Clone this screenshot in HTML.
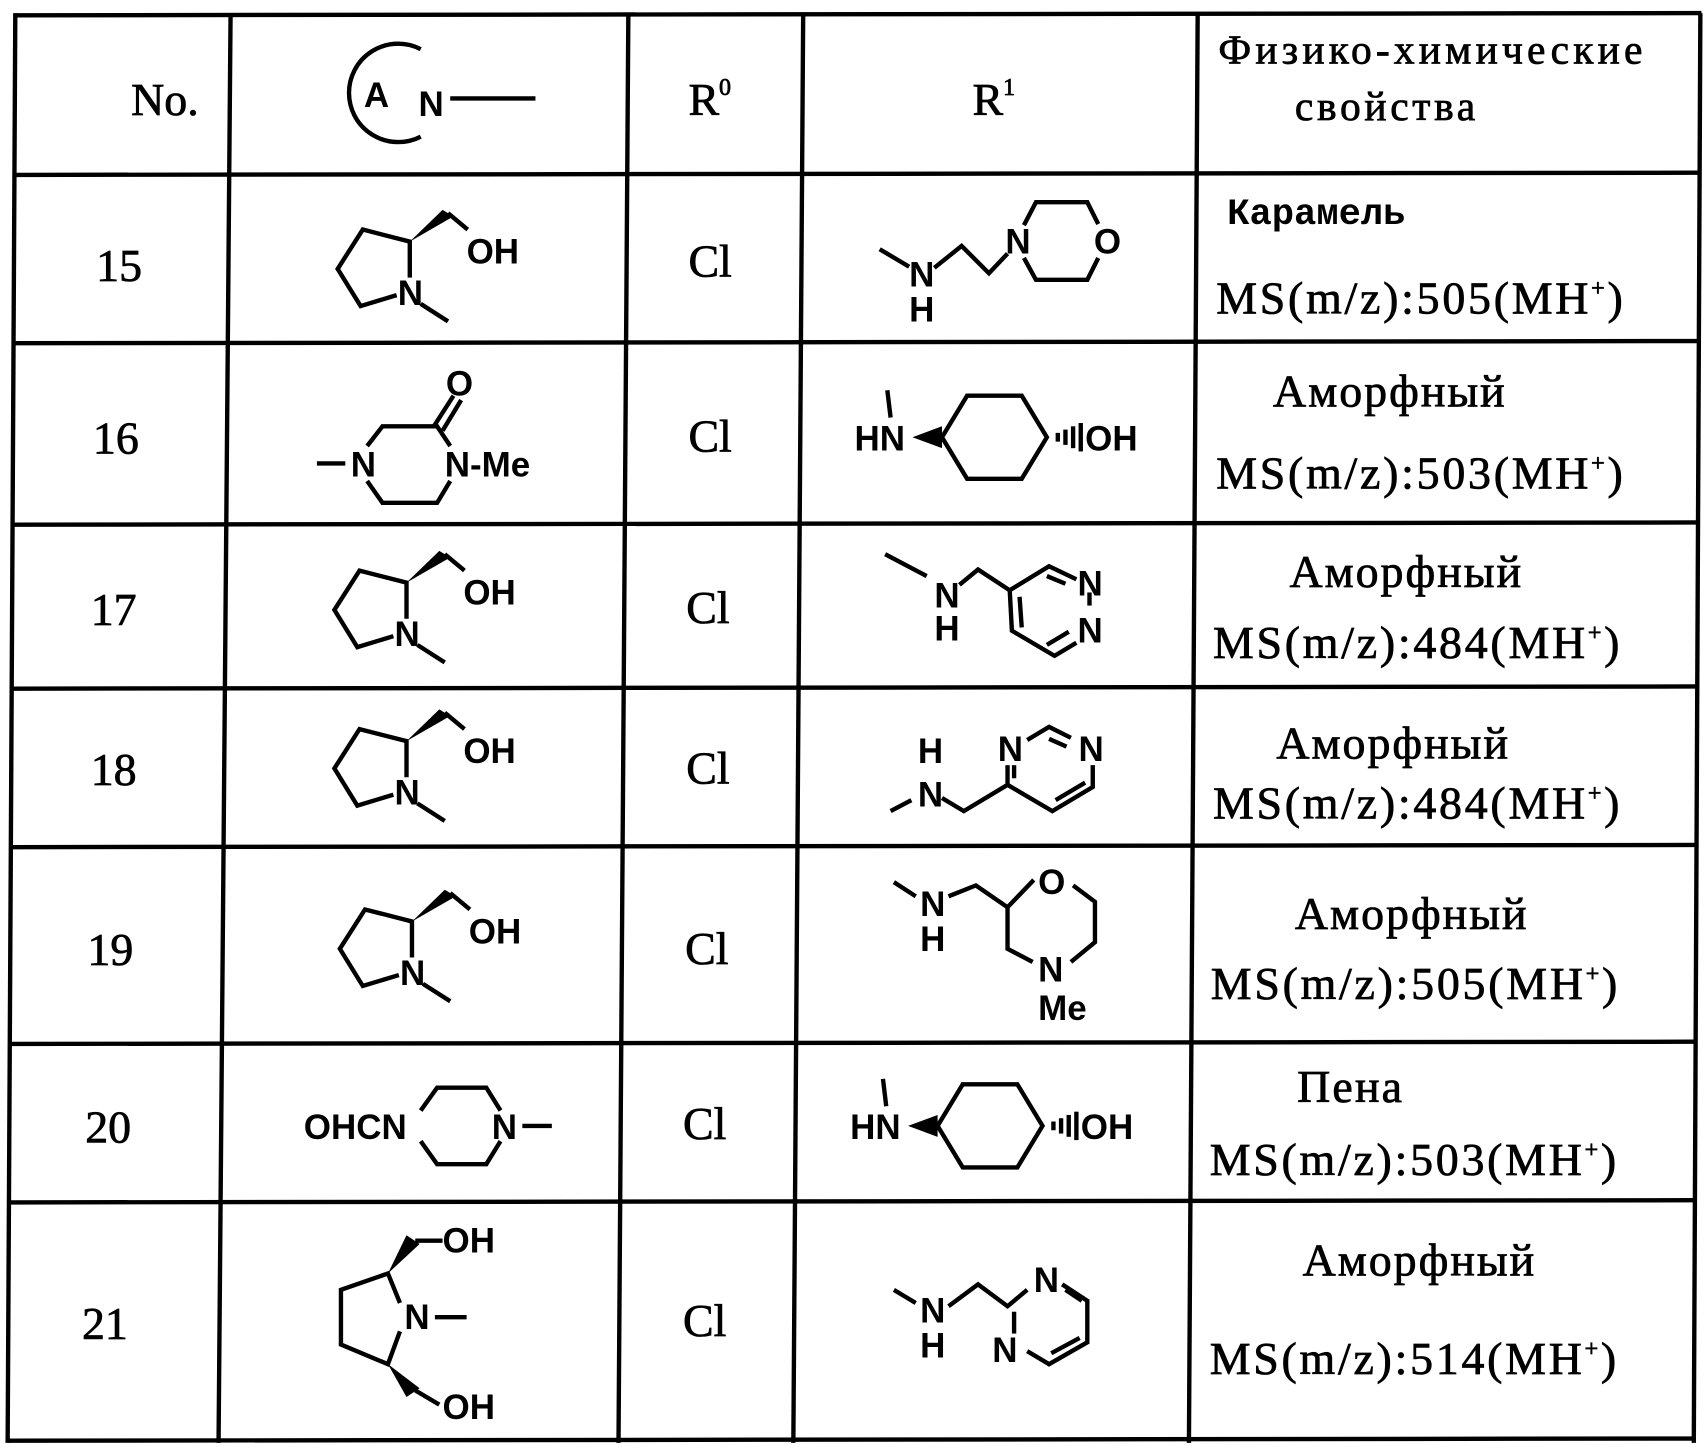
<!DOCTYPE html>
<html><head><meta charset="utf-8"><style>
html,body{margin:0;padding:0;background:#fff;}
svg{display:block;}
.t{font-family:"Liberation Serif",serif;font-size:42px;fill:#000;stroke:#000;stroke-width:0.7px;}
.c{font-family:"Liberation Sans",sans-serif;font-size:32px;fill:#000;font-weight:bold;}
.m{font-family:"Liberation Mono",monospace;font-size:34px;fill:#000;font-weight:bold;}
</style></head><body>
<svg width="1708" height="1456" viewBox="0 0 1563 1332" preserveAspectRatio="none" xmlns="http://www.w3.org/2000/svg">
<g stroke="#000" stroke-width="4" fill="none">
<line x1="14" y1="14" x2="1557" y2="12"/>
<line x1="14" y1="160" x2="1556" y2="158"/>
<line x1="12" y1="314" x2="1555" y2="312"/>
<line x1="11" y1="480" x2="1554" y2="478"/>
<line x1="10" y1="630" x2="1553" y2="628"/>
<line x1="10" y1="775" x2="1553" y2="773"/>
<line x1="9" y1="955" x2="1552" y2="953"/>
<line x1="8" y1="1100" x2="1551" y2="1098"/>
<line x1="7" y1="1318" x2="1551" y2="1316"/>
<line x1="14" y1="12" x2="7" y2="1320"/>
<line x1="211" y1="12" x2="200" y2="1320"/>
<line x1="575" y1="12" x2="566" y2="1320"/>
<line x1="735" y1="12" x2="726" y2="1320"/>
<line x1="1096" y1="12" x2="1088" y2="1320"/>
<line x1="1556" y1="12" x2="1550" y2="1320"/>
</g>
<!-- header -->
<text class="t" x="120" y="105">No.</text>
<path d="M385 45 A45 45 0 1 0 385 125" stroke="#000" stroke-width="4" fill="none"/>
<text class="c" x="333" y="98">A</text>
<text class="c" x="383" y="106">N</text>
<line x1="412" y1="90" x2="490" y2="90" stroke="#000" stroke-width="4"/>
<text class="t" x="630" y="105">R<tspan font-size="22" dy="-18">0</tspan></text>
<text class="t" x="890" y="105">R<tspan font-size="22" dy="-18">1</tspan></text>
<text class="t" x="1115" y="58" style="font-size:38px" textLength="388">Физико-химические</text>
<text class="t" x="1185" y="110" style="font-size:38px" textLength="165">свойства</text>
<!-- col1 -->
<g class="t"><text x="88" y="257">15</text><text x="85" y="415">16</text><text x="83" y="572">17</text><text x="83" y="718">18</text><text x="80" y="883">19</text><text x="78" y="1045">20</text><text x="75" y="1225">21</text></g>
<g class="t"><text x="630" y="253">Cl</text><text x="630" y="413">Cl</text><text x="628" y="570">Cl</text><text x="628" y="717">Cl</text><text x="627" y="882">Cl</text><text x="625" y="1042">Cl</text><text x="625" y="1222">Cl</text></g>
<!-- col5 -->
<text class="m" x="1123" y="205">Карамель</text>
<g class="t">
<text x="1113" y="287" textLength="372">MS(m/z):505(MH<tspan font-size="22" dy="-16">+</tspan><tspan dy="16">)</tspan></text>
<text x="1165" y="372" textLength="212">Аморфный</text>
<text x="1113" y="447" textLength="372">MS(m/z):503(MH<tspan font-size="22" dy="-16">+</tspan><tspan dy="16">)</tspan></text>
<text x="1180" y="537" textLength="212">Аморфный</text>
<text x="1110" y="602" textLength="372">MS(m/z):484(MH<tspan font-size="22" dy="-16">+</tspan><tspan dy="16">)</tspan></text>
<text x="1168" y="694" textLength="212">Аморфный</text>
<text x="1110" y="749" textLength="372">MS(m/z):484(MH<tspan font-size="22" dy="-16">+</tspan><tspan dy="16">)</tspan></text>
<text x="1185" y="850" textLength="212">Аморфный</text>
<text x="1108" y="914" textLength="372">MS(m/z):505(MH<tspan font-size="22" dy="-16">+</tspan><tspan dy="16">)</tspan></text>
<text x="1187" y="1008" textLength="96">Пена</text>
<text x="1107" y="1075" textLength="372">MS(m/z):503(MH<tspan font-size="22" dy="-16">+</tspan><tspan dy="16">)</tspan></text>
<text x="1192" y="1167" textLength="212">Аморфный</text>
<text x="1107" y="1257" textLength="372">MS(m/z):514(MH<tspan font-size="22" dy="-16">+</tspan><tspan dy="16">)</tspan></text>
</g>
<defs>
<g id="pyr">
<g stroke="#000" stroke-width="4" fill="none">
<polyline points="0,-14 0,-47 -43,-58 -66,-22 -45,12 -12,2"/>
<line x1="10" y1="10" x2="35" y2="26"/>
<line x1="35" y1="-73" x2="53" y2="-58"/>
</g>
<polygon points="0,-47 30,-76 40,-70" fill="#000"/>
<text class="c" x="-11" y="11">N</text>
<text class="c" x="52" y="-27">OH</text>
</g>
<g id="cyc">
<g stroke="#000" stroke-width="4" fill="none">
<line x1="812" y1="357" x2="815" y2="382"/>
<polygon points="862,400 885,362 935,362 958,400 935,438 885,438"/>
<line x1="968" y1="396" x2="968" y2="404"/><line x1="975" y1="393" x2="975" y2="407"/><line x1="982" y1="390" x2="982" y2="410"/><line x1="989" y1="387" x2="989" y2="413"/>
</g>
<polygon points="835,400 862,390 862,410" fill="#000"/>
<text class="c" x="782" y="412">HN</text>
<text class="c" x="993" y="412">OH</text>
</g>
</defs>
<use href="#pyr" x="375" y="268"/>
<use href="#pyr" x="372" y="580"/>
<use href="#pyr" x="372" y="725"/>
<use href="#pyr" x="377" y="890"/>
<use href="#cyc"/>
<use href="#cyc" x="-4" y="630"/>
<!-- row16 col2 -->
<g stroke="#000" stroke-width="4" fill="none">
<line x1="290" y1="424" x2="316" y2="424"/>
<polyline points="336,408 350,390 400,390 412,408"/>
<polyline points="336,440 350,460 400,460 412,440"/>
<line x1="397" y1="390" x2="415" y2="362"/><line x1="405" y1="394" x2="422" y2="366"/>
</g>
<text class="c" x="321" y="436">N</text>
<text class="c" x="407" y="436">N-Me</text>
<text class="c" x="408" y="362">O</text>
<!-- row15 R1 -->
<g stroke="#000" stroke-width="4" fill="none">
<line x1="805" y1="228" x2="832" y2="244"/>
<polyline points="855,245 880,225 905,250 922,232"/>
<polyline points="937,206 948,185 995,185 1005,205"/>
<polyline points="937,236 948,256 995,256 1005,236"/>
</g>
<text class="c" x="832" y="262">N</text><text class="c" x="832" y="294">H</text>
<text class="c" x="920" y="232">N</text><text class="c" x="1001" y="232">O</text>
<!-- row17 R1 -->
<g stroke="#000" stroke-width="4" fill="none">
<line x1="810" y1="507" x2="848" y2="527"/>
<polyline points="878,535 895,521 924,540 960,518 985,530"/>
<polyline points="924,540 926,577 965,600 985,588"/>
<line x1="933" y1="546" x2="935" y2="574"/>
<line x1="958" y1="527" x2="975" y2="534"/>
<line x1="958" y1="590" x2="978" y2="578"/>
<line x1="997" y1="542" x2="997" y2="554"/>
</g>
<text class="c" x="855" y="556">N</text><text class="c" x="855" y="586">H</text>
<text class="c" x="986" y="545">N</text><text class="c" x="986" y="588">N</text>
<!-- row18 R1 -->
<g stroke="#000" stroke-width="4" fill="none">
<line x1="815" y1="742" x2="834" y2="732"/>
<polyline points="862,730 882,742 922,718 963,742 1000,720 1000,700"/>
<line x1="922" y1="718" x2="922" y2="700"/><line x1="928" y1="712" x2="928" y2="700"/>
<polyline points="940,677 960,665 980,675"/>
<line x1="960" y1="676" x2="976" y2="683"/>
<line x1="966" y1="732" x2="993" y2="716"/>
</g>
<text class="c" x="840" y="698">H</text><text class="c" x="840" y="738">N</text>
<text class="c" x="913" y="696">N</text><text class="c" x="987" y="696">N</text>
<!-- row19 R1 -->
<g stroke="#000" stroke-width="4" fill="none">
<line x1="818" y1="807" x2="838" y2="820"/>
<polyline points="868,820 893,810 922,830 946,805"/>
<polyline points="982,810 1002,825 1002,862 980,880"/>
<polyline points="922,830 922,868 945,880"/>
</g>
<text class="c" x="842" y="838">N</text><text class="c" x="842" y="870">H</text>
<text class="c" x="950" y="818">O</text><text class="c" x="950" y="898">N</text><text class="c" x="950" y="933">Me</text>
<!-- row20 col2 -->
<g stroke="#000" stroke-width="4" fill="none">
<polyline points="385,1016 400,995 445,995 458,1016"/>
<polyline points="385,1044 400,1065 445,1065 458,1044"/>
<line x1="478" y1="1030" x2="505" y2="1030"/>
</g>
<text class="c" x="278" y="1042">OHCN</text><text class="c" x="450" y="1042">N</text>
<!-- row21 col2 -->
<g stroke="#000" stroke-width="4" fill="none">
<polyline points="366,1192 355,1165 312,1180 312,1230 355,1248 366,1218"/>
<line x1="398" y1="1205" x2="427" y2="1205"/>
<line x1="380" y1="1135" x2="405" y2="1135"/>
<line x1="380" y1="1272" x2="402" y2="1285"/>
</g>
<polygon points="355,1165 372,1130 384,1138" fill="#000"/>
<polygon points="355,1248 372,1278 384,1270" fill="#000"/>
<text class="c" x="370" y="1216">N</text>
<text class="c" x="405" y="1146">OH</text><text class="c" x="405" y="1298">OH</text>
<!-- row21 R1 -->
<g stroke="#000" stroke-width="4" fill="none">
<line x1="818" y1="1180" x2="838" y2="1192"/>
<polyline points="868,1195 895,1175 922,1195 940,1180"/>
<polyline points="972,1175 995,1190 995,1228 960,1248 940,1236"/>
<line x1="928" y1="1200" x2="928" y2="1220"/>
<line x1="962" y1="1238" x2="988" y2="1224"/>
<line x1="975" y1="1180" x2="990" y2="1190"/>
</g>
<text class="c" x="842" y="1210">N</text><text class="c" x="842" y="1242">H</text>
<text class="c" x="946" y="1182">N</text><text class="c" x="908" y="1246">N</text>
</svg>
</body></html>
